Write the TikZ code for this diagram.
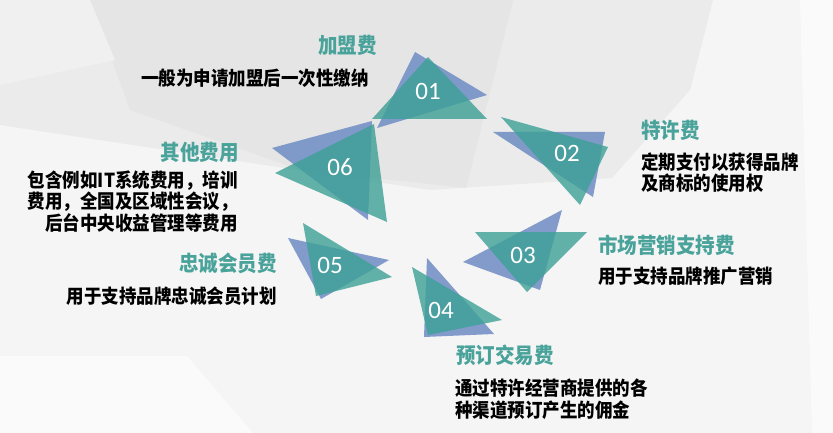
\documentclass[tikz,border=0pt]{standalone}
\usepackage{fontspec}
\usepackage{tikz}
\newfontfamily\cjk{Noto Sans CJK SC}
\newfontfamily\numfont{Carlito}
\definecolor{tealfill}{RGB}{60,160,150}
\definecolor{bluefill}{RGB}{110,140,195}
\definecolor{titleteal}{RGB}{74,163,155}
\newcommand{\tallline}[1]{\scalebox{1}[1.1]{#1}}

\begin{document}
\begin{tikzpicture}[
x=1pt, y=-1pt,
facet/.style={draw=none},
tealtri/.style={fill=tealfill, fill opacity=0.8},
bluetri/.style={fill=bluefill, fill opacity=0.85},
num/.style={font=\numfont\fontsize{25}{25}\selectfont, text=white, inner sep=0pt},
title/.style={font=\cjk\bfseries\fontsize{19.5}{23}\selectfont, text=titleteal, inner sep=0pt},
desc/.style={font=\cjk\bfseries\fontsize{17.5}{21.5}\selectfont, inner sep=0pt} ]

\useasboundingbox (0,0) rectangle (833,433);

% background facets
\fill[facet, black!4] (0,0) rectangle (833,433);
\fill[facet, black!8] (0,0) -- (713,0) -- (690,90) -- (612,178) -- (430,190) -- (0,125) -- cycle;
\fill[facet, black!10] (90,0) -- (513,0) -- (466,188) -- (300,170) -- (130,110) -- cycle;
\fill[facet, black!6] (0,0) -- (90,0) -- (115,60) -- (0,85) -- cycle;
\fill[facet, black!2] (0,356) -- (187,356) -- (253,433) -- (0,433) -- cycle;
\fill[facet, black!2] (800,0) -- (833,0) -- (833,433) -- (812,433) -- cycle;

% triangles
\fill[bluetri] (415,52) -- (487,95) -- (377,128) -- cycle;
\fill[tealtri] (428,57) -- (487,119) -- (372,119) -- cycle;

\fill[bluetri] (493,132) -- (605,132) -- (593,197) -- cycle;
\fill[tealtri] (501,117) -- (608,147) -- (580,205) -- cycle;

\fill[bluetri] (562,210) -- (463,262) -- (540,290) -- cycle;
\fill[tealtri] (475,232) -- (587,232) -- (527,292) -- cycle;

\fill[bluetri] (427,258) -- (494,334) -- (424,337) -- cycle;
\fill[tealtri] (412,267) -- (502,320) -- (428,335) -- cycle;

\fill[bluetri] (288,238) -- (389,260) -- (321,299) -- cycle;
\fill[tealtri] (303,223) -- (392,277) -- (316,296) -- cycle;

\fill[bluetri] (272,148) -- (372,121) -- (368,220) -- cycle;
\fill[tealtri] (275,173) -- (374,124) -- (387,222) -- cycle;

% numbers
\node[num] (n01) at (428,91) {01};
\node[num] (n02) at (567,153) {02};
\node[num] (n03) at (523,255) {03};
\node[num] (n04) at (441,310) {04};
\node[num] (n05) at (330,265) {05};
\node[num] (n06) at (340,167) {06};

% labels
\node[title, anchor=east] (t01) at (377,45) {\tallline{加盟费}};
\node[desc, anchor=east] (d01) at (369,78) {\tallline{一般为申请加盟后一次性缴纳}};

\node[title, anchor=west] (t02) at (641,130) {\tallline{特许费}};
\node[desc, anchor=west, align=left] (d02) at (641,172.5) {\tallline{定期支付以获得品牌}\\\tallline{及商标的使用权}};

\node[title, anchor=west] (t03) at (598,245) {\tallline{市场营销支持费}};
\node[desc, anchor=west] (d03) at (598,276) {\tallline{用于支持品牌推广营销}};

\node[title, anchor=west] (t04) at (456,355) {\tallline{预订交易费}};
\node[desc, anchor=west, align=left] (d04) at (455,399) {\tallline{通过特许经营商提供的各}\\\tallline{种渠道预订产生的佣金}};

\node[title, anchor=east] (t05) at (277,263) {\tallline{忠诚会员费}};
\node[desc, anchor=east] (d05) at (277,296) {\tallline{用于支持品牌忠诚会员计划}};

\node[title, anchor=east] (t06) at (239,152) {\tallline{其他费用}};
\node[desc, anchor=east, align=right] (d06) at (238,201.5) {\tallline{包含例如IT系统费用，培训}\\\tallline{费用，全国及区域性会议，}\\\tallline{后台中央收益管理等费用}};

\end{tikzpicture}
\end{document}
